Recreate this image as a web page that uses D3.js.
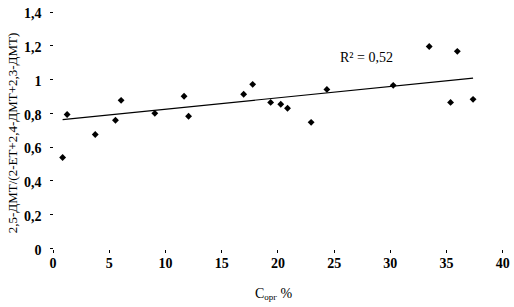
<!DOCTYPE html>
<html>
<head>
<meta charset="utf-8">
<script src="https://cdn.jsdelivr.net/npm/d3@7"></script>
<style>
    html, body { margin: 0; padding: 0; background: #fff; }
    svg { display: block; }
    text { font-family: "Liberation Serif", "Times New Roman", serif; fill: #000; }
</style>
</head>
<body>
<div id="canvas"></div>
<script>
/* Data */
const xValues = [0.9, 1.3, 3.8, 5.6, 6.1, 9.1, 11.7, 12.1, 17.0, 17.8,
                 19.4, 20.3, 20.9, 23.0, 24.4, 30.3, 33.5, 35.4, 36.0, 37.4];
const yValues = [0.536, 0.79, 0.672, 0.756, 0.874, 0.797, 0.898, 0.78, 0.91, 0.969,
                 0.862, 0.851, 0.827, 0.744, 0.939, 0.963, 1.193, 0.862, 1.164, 0.88];
const trendX = [0.9, 37.4];
const trendY = [0.76, 1.006];
const xTicks = [0, 5, 10, 15, 20, 25, 30, 35, 40];
const yTicks = [0, 0.2, 0.4, 0.6, 0.8, 1, 1.2, 1.4];
const yLabel = '2,5-ДМТ/(2-ЕТ+2,4-ДМТ+2,3-ДМТ)';
const r2Label = 'R² = 0,52';

function initChart() {
    'use strict';

    const config = {
        width: 514,
        height: 307,
        x0: 52.5, x1: 502.3,
        y0: 248, y1: 11.5
    };

    const svg = d3.select('#canvas').append('svg')
        .attr('width', config.width)
        .attr('height', config.height);

    /* Scales */
    const x = d3.scaleLinear().domain([0, 40]).range([config.x0, config.x1]);
    const y = d3.scaleLinear().domain([0, 1.4]).range([config.y0, config.y1]);

    const fmt = d => String(d).replace('.', ',');

    /* Axes (no domain lines, only tick marks) */
    const yAxis = svg.append('g')
        .attr('transform', `translate(${config.x0},0)`)
        .call(d3.axisLeft(y).tickValues(yTicks).tickFormat(fmt).tickSize(3).tickPadding(8));

    const xAxis = svg.append('g')
        .attr('transform', `translate(0,${config.y0 + 2})`)
        .call(d3.axisBottom(x).tickValues(xTicks).tickFormat(fmt).tickSize(3).tickPadding(5));

    [yAxis, xAxis].forEach(g => {
        g.select('.domain').remove();
        g.selectAll('line').attr('stroke', '#000').attr('shape-rendering', 'crispEdges');
        g.selectAll('text')
            .attr('font-family', '"Liberation Serif", serif')
            .attr('font-size', 14)
            .attr('font-weight', 'bold')
            .attr('fill', '#000');
    });
    yAxis.selectAll('text').attr('dy', '0.45em');

    /* Trend line */
    svg.append('line')
        .attr('x1', x(trendX[0])).attr('y1', y(trendY[0]))
        .attr('x2', x(trendX[1])).attr('y2', y(trendY[1]))
        .attr('stroke', '#000')
        .attr('stroke-width', 1.2);

    /* Points */
    const points = xValues.map((v, i) => ({ x: v, y: yValues[i] }));
    svg.append('g').selectAll('path')
        .data(points)
        .join('path')
        .attr('d', d3.symbol().type(d3.symbolDiamond2).size(30))
        .attr('transform', d => `translate(${x(d.x)},${y(d.y)})`)
        .attr('fill', '#000');

    /* Labels */
    svg.append('text')
        .attr('x', 340)
        .attr('y', 62)
        .attr('font-size', 14)
        .text(r2Label);

    svg.append('text')
        .attr('transform', 'translate(17,133) rotate(-90)')
        .attr('text-anchor', 'middle')
        .attr('font-size', 13)
        .text(yLabel);

    const xl = svg.append('text')
        .attr('x', 255)
        .attr('y', 298)
        .attr('font-size', 14);
    xl.append('tspan').text('C');
    xl.append('tspan').attr('font-size', 9).attr('dy', 2).text('орг');
    xl.append('tspan').attr('dy', -2).text(' %');
}

if (document.readyState === 'loading') {
    document.addEventListener('DOMContentLoaded', initChart);
} else {
    initChart();
}
</script>
</body>
</html>
